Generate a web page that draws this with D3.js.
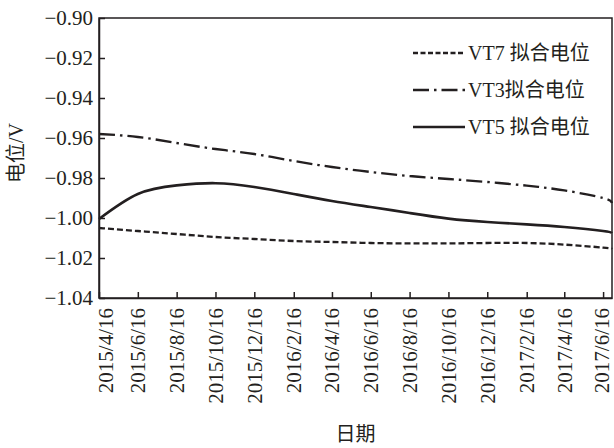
<!DOCTYPE html>
<html>
<head>
<meta charset="utf-8">
<script src="https://cdn.jsdelivr.net/npm/d3@7"></script>
<style>
  body { margin: 0; background: #fff; }
  text { font-family: "Liberation Serif", "Times New Roman", "Noto Sans CJK SC", serif; fill: #231f20; }
</style>
</head>
<body>
<div id="chart"></div>
<script>
// tick dates (every two months) and the right edge of the axis
const dates = ["2015/4/16", "2015/6/16", "2015/8/16", "2015/10/16", "2015/12/16", "2016/2/16", "2016/4/16",
               "2016/6/16", "2016/8/16", "2016/10/16", "2016/12/16", "2017/2/16", "2017/4/16", "2017/6/16", "2017/6/30"];
const tickLabels = dates.slice(0, 14);

const vt7 = [-1.0050, -1.0065, -1.0080, -1.0095, -1.0105, -1.0115, -1.0120, -1.0125,
             -1.0127, -1.0127, -1.0125, -1.0125, -1.0133, -1.0148, -1.0155];
const vt3 = [-0.9580, -0.9595, -0.9625, -0.9655, -0.9680, -0.9715, -0.9745, -0.9770,
             -0.9790, -0.9805, -0.9820, -0.9838, -0.9862, -0.9900, -0.9925];
const vt5 = [-1.0005, -0.9880, -0.9837, -0.9826, -0.9845, -0.9880, -0.9915, -0.9945,
             -0.9975, -1.0003, -1.0020, -1.0032, -1.0045, -1.0065, -1.0075];

const seriesNames = ["VT7 拟合电位", "VT3拟合电位", "VT5 拟合电位"];
const yTicks = [-0.90, -0.92, -0.94, -0.96, -0.98, -1.00, -1.02, -1.04];

const parse = d3.timeParse("%Y/%m/%d");
const fmt = d3.timeFormat("%Y/%-m/%-d");

const margin = {top: 18, right: 2, bottom: 150, left: 99};
const W = 614, H = 448;
const width = W - margin.left - margin.right;
const height = H - margin.top - margin.bottom;
const ink = "#231f20";

const svg = d3.select("#chart").append("svg")
    .attr("width", W)
    .attr("height", H);

const g = svg.append("g")
    .attr("transform", `translate(${margin.left},${margin.top})`);

const x = d3.scaleTime()
    .domain([parse(dates[0]), parse(dates[dates.length - 1])])
    .range([0, width]);

const y = d3.scaleLinear()
    .domain([-1.04, -0.90])
    .range([height, 0]);

// frame
g.append("rect")
    .attr("width", width)
    .attr("height", height)
    .attr("fill", "none")
    .attr("stroke", ink)
    .attr("stroke-width", 1.5);

const yAxis = g.append("g")
    .call(d3.axisLeft(y).tickValues(yTicks).tickFormat(d3.format(".2f"))
        .tickSize(-6).tickSizeOuter(0).tickPadding(6));
yAxis.selectAll("line").attr("stroke", ink).attr("stroke-width", 1.5);
yAxis.select(".domain").attr("stroke", ink).attr("stroke-width", 1.5);
yAxis.selectAll("text")
    .style("font-size", "21px")
    .style("font-family", null);

const xAxis = g.append("g")
    .attr("transform", `translate(0,${height})`)
    .call(d3.axisBottom(x).tickValues(tickLabels.map(parse)).tickFormat(fmt)
        .tickSize(-6).tickSizeOuter(0));
xAxis.selectAll("line").attr("stroke", ink).attr("stroke-width", 1.5);
xAxis.select(".domain").attr("stroke", ink).attr("stroke-width", 1.5);
xAxis.selectAll("text")
    .style("font-size", "21px")
    .style("font-family", null)
    .attr("text-anchor", "end")
    .attr("transform", "rotate(-90)")
    .attr("x", -10)
    .attr("y", (d, i) => i == 0 ? 7 : (i == tickLabels.length - 1 ? -2 : 0))
    .attr("dy", "0.33em");

// axis titles
g.append("text")
    .attr("transform", "rotate(-90)")
    .attr("x", -height / 2 + 5)
    .attr("y", -83)
    .attr("text-anchor", "middle")
    .attr("dy", "0.35em")
    .style("font-size", "20px")
    .text("电位/V");

g.append("text")
    .attr("x", width / 2)
    .attr("y", H - margin.top - 7)
    .attr("text-anchor", "middle")
    .style("font-size", "20px")
    .text("日期");

// lines
const styles = [
    {data: vt7, dash: "6,3", w: 2.3},
    {data: vt3, dash: "16,5,2.5,5", w: 2.3},
    {data: vt5, dash: null, w: 2.6}
];

const line = d3.line()
    .x((d, i) => x(parse(dates[i])))
    .y(d => y(d))
    .curve(d3.curveNatural);

styles.forEach(s => {
    g.append("path")
        .datum(s.data)
        .attr("d", line)
        .attr("fill", "none")
        .attr("stroke", ink)
        .attr("stroke-width", s.w)
        .attr("stroke-dasharray", s.dash);
});

// legend
const legend = svg.append("g")
    .attr("transform", "translate(413, 53)");

const item = legend.selectAll(".legend-item")
    .data(seriesNames)
    .enter()
    .append("g")
    .attr("class", "legend-item")
    .attr("transform", (d, i) => `translate(0, ${i * 37})`);

item.append("line")
    .attr("x1", 0)
    .attr("x2", 52)
    .attr("stroke", ink)
    .attr("stroke-width", (d, i) => styles[i].w)
    .attr("stroke-dasharray", (d, i) => i == 0 ? "5,2.5" : styles[i].dash);

item.append("text")
    .attr("x", 55)
    .attr("dy", "0.35em")
    .style("font-size", "20px")
    .text(d => d);
</script>
</body>
</html>
